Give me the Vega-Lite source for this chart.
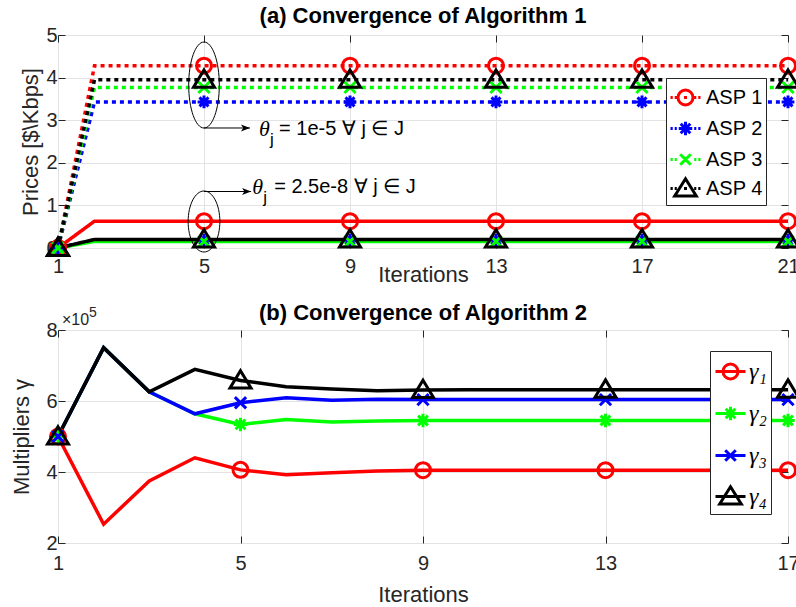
{
  "$schema": "https://vega.github.io/schema/vega-lite/v6.json",
  "background": "white",
  "padding": {"left": 9, "top": 4, "right": 0, "bottom": 0},
  "bounds": "flush",
  "spacing": 82,
  "config": {
    "font": "Liberation Sans",
    "view": {"stroke": "#262626", "strokeWidth": 1},
    "axis": {
      "labelFont": "Liberation Sans", "labelFontSize": 20, "labelColor": "#262626",
      "titleFont": "Liberation Sans", "titleFontSize": 22, "titleFontWeight": "normal", "titleColor": "#262626",
      "domain": false, "tickColor": "#262626", "tickSize": -7, "gridColor": "#e3e3e3", "gridWidth": 1,
      "labelFlush": false, "labelOverlap": false
    },
    "title": {"font": "Liberation Sans", "fontSize": 22, "fontWeight": "bold", "color": "#000000", "anchor": "middle", "baseline": "alphabetic"}
  },
  "resolve": {"scale": {"color": "independent", "shape": "independent", "x": "independent", "y": "independent"}, "legend": {"color": "independent", "shape": "independent"}},
  "datasets": {
    "prices": [
      {"asp": "ASP 1", "theta": "1e-5", "iter": 1, "price": 0}, {"asp": "ASP 1", "theta": "1e-5", "iter": 2, "price": 4.28}, {"asp": "ASP 1", "theta": "1e-5", "iter": 5, "price": 4.28}, {"asp": "ASP 1", "theta": "1e-5", "iter": 9, "price": 4.28}, {"asp": "ASP 1", "theta": "1e-5", "iter": 13, "price": 4.28}, {"asp": "ASP 1", "theta": "1e-5", "iter": 17, "price": 4.28}, {"asp": "ASP 1", "theta": "1e-5", "iter": 21, "price": 4.28},
      {"asp": "ASP 2", "theta": "1e-5", "iter": 1, "price": 0}, {"asp": "ASP 2", "theta": "1e-5", "iter": 2, "price": 3.43}, {"asp": "ASP 2", "theta": "1e-5", "iter": 5, "price": 3.43}, {"asp": "ASP 2", "theta": "1e-5", "iter": 9, "price": 3.43}, {"asp": "ASP 2", "theta": "1e-5", "iter": 13, "price": 3.43}, {"asp": "ASP 2", "theta": "1e-5", "iter": 17, "price": 3.43}, {"asp": "ASP 2", "theta": "1e-5", "iter": 21, "price": 3.43},
      {"asp": "ASP 3", "theta": "1e-5", "iter": 1, "price": 0}, {"asp": "ASP 3", "theta": "1e-5", "iter": 2, "price": 3.77}, {"asp": "ASP 3", "theta": "1e-5", "iter": 5, "price": 3.77}, {"asp": "ASP 3", "theta": "1e-5", "iter": 9, "price": 3.77}, {"asp": "ASP 3", "theta": "1e-5", "iter": 13, "price": 3.77}, {"asp": "ASP 3", "theta": "1e-5", "iter": 17, "price": 3.77}, {"asp": "ASP 3", "theta": "1e-5", "iter": 21, "price": 3.77},
      {"asp": "ASP 4", "theta": "1e-5", "iter": 1, "price": 0}, {"asp": "ASP 4", "theta": "1e-5", "iter": 2, "price": 3.95}, {"asp": "ASP 4", "theta": "1e-5", "iter": 5, "price": 3.95}, {"asp": "ASP 4", "theta": "1e-5", "iter": 9, "price": 3.95}, {"asp": "ASP 4", "theta": "1e-5", "iter": 13, "price": 3.95}, {"asp": "ASP 4", "theta": "1e-5", "iter": 17, "price": 3.95}, {"asp": "ASP 4", "theta": "1e-5", "iter": 21, "price": 3.95},
      {"asp": "ASP 1", "theta": "2.5e-8", "iter": 1, "price": 0}, {"asp": "ASP 1", "theta": "2.5e-8", "iter": 2, "price": 0.63}, {"asp": "ASP 1", "theta": "2.5e-8", "iter": 5, "price": 0.63}, {"asp": "ASP 1", "theta": "2.5e-8", "iter": 9, "price": 0.63}, {"asp": "ASP 1", "theta": "2.5e-8", "iter": 13, "price": 0.63}, {"asp": "ASP 1", "theta": "2.5e-8", "iter": 17, "price": 0.63}, {"asp": "ASP 1", "theta": "2.5e-8", "iter": 21, "price": 0.63},
      {"asp": "ASP 2", "theta": "2.5e-8", "iter": 1, "price": 0}, {"asp": "ASP 2", "theta": "2.5e-8", "iter": 2, "price": 0.185}, {"asp": "ASP 2", "theta": "2.5e-8", "iter": 5, "price": 0.185}, {"asp": "ASP 2", "theta": "2.5e-8", "iter": 9, "price": 0.185}, {"asp": "ASP 2", "theta": "2.5e-8", "iter": 13, "price": 0.185}, {"asp": "ASP 2", "theta": "2.5e-8", "iter": 17, "price": 0.185}, {"asp": "ASP 2", "theta": "2.5e-8", "iter": 21, "price": 0.185},
      {"asp": "ASP 3", "theta": "2.5e-8", "iter": 1, "price": 0}, {"asp": "ASP 3", "theta": "2.5e-8", "iter": 2, "price": 0.155}, {"asp": "ASP 3", "theta": "2.5e-8", "iter": 5, "price": 0.155}, {"asp": "ASP 3", "theta": "2.5e-8", "iter": 9, "price": 0.155}, {"asp": "ASP 3", "theta": "2.5e-8", "iter": 13, "price": 0.155}, {"asp": "ASP 3", "theta": "2.5e-8", "iter": 17, "price": 0.155}, {"asp": "ASP 3", "theta": "2.5e-8", "iter": 21, "price": 0.155},
      {"asp": "ASP 4", "theta": "2.5e-8", "iter": 1, "price": 0}, {"asp": "ASP 4", "theta": "2.5e-8", "iter": 2, "price": 0.2}, {"asp": "ASP 4", "theta": "2.5e-8", "iter": 5, "price": 0.2}, {"asp": "ASP 4", "theta": "2.5e-8", "iter": 9, "price": 0.2}, {"asp": "ASP 4", "theta": "2.5e-8", "iter": 13, "price": 0.2}, {"asp": "ASP 4", "theta": "2.5e-8", "iter": 17, "price": 0.2}, {"asp": "ASP 4", "theta": "2.5e-8", "iter": 21, "price": 0.2}
    ],
    "gammas": [
      {"g": "γ₁", "iter": 1, "val": 500000}, {"g": "γ₁", "iter": 2, "val": 253000}, {"g": "γ₁", "iter": 3, "val": 375000}, {"g": "γ₁", "iter": 4, "val": 440000}, {"g": "γ₁", "iter": 5, "val": 406000}, {"g": "γ₁", "iter": 6, "val": 392000}, {"g": "γ₁", "iter": 7, "val": 398000}, {"g": "γ₁", "iter": 8, "val": 403000}, {"g": "γ₁", "iter": 9, "val": 405000}, {"g": "γ₁", "iter": 10, "val": 405000}, {"g": "γ₁", "iter": 11, "val": 405000}, {"g": "γ₁", "iter": 12, "val": 405000}, {"g": "γ₁", "iter": 13, "val": 405000}, {"g": "γ₁", "iter": 14, "val": 405000}, {"g": "γ₁", "iter": 15, "val": 405000}, {"g": "γ₁", "iter": 16, "val": 405000}, {"g": "γ₁", "iter": 17, "val": 405000},
      {"g": "γ₂", "iter": 1, "val": 500000}, {"g": "γ₂", "iter": 2, "val": 750000}, {"g": "γ₂", "iter": 3, "val": 626000}, {"g": "γ₂", "iter": 4, "val": 564000}, {"g": "γ₂", "iter": 5, "val": 534000}, {"g": "γ₂", "iter": 6, "val": 548000}, {"g": "γ₂", "iter": 7, "val": 541000}, {"g": "γ₂", "iter": 8, "val": 544000}, {"g": "γ₂", "iter": 9, "val": 545000}, {"g": "γ₂", "iter": 10, "val": 545000}, {"g": "γ₂", "iter": 11, "val": 545000}, {"g": "γ₂", "iter": 12, "val": 545000}, {"g": "γ₂", "iter": 13, "val": 545000}, {"g": "γ₂", "iter": 14, "val": 545000}, {"g": "γ₂", "iter": 15, "val": 545000}, {"g": "γ₂", "iter": 16, "val": 545000}, {"g": "γ₂", "iter": 17, "val": 545000},
      {"g": "γ₃", "iter": 1, "val": 500000}, {"g": "γ₃", "iter": 2, "val": 750000}, {"g": "γ₃", "iter": 3, "val": 626000}, {"g": "γ₃", "iter": 4, "val": 564000}, {"g": "γ₃", "iter": 5, "val": 595000}, {"g": "γ₃", "iter": 6, "val": 609000}, {"g": "γ₃", "iter": 7, "val": 602000}, {"g": "γ₃", "iter": 8, "val": 605000}, {"g": "γ₃", "iter": 9, "val": 604000}, {"g": "γ₃", "iter": 10, "val": 604000}, {"g": "γ₃", "iter": 11, "val": 604000}, {"g": "γ₃", "iter": 12, "val": 604000}, {"g": "γ₃", "iter": 13, "val": 604000}, {"g": "γ₃", "iter": 14, "val": 604000}, {"g": "γ₃", "iter": 15, "val": 604000}, {"g": "γ₃", "iter": 16, "val": 604000}, {"g": "γ₃", "iter": 17, "val": 604000},
      {"g": "γ₄", "iter": 1, "val": 500000}, {"g": "γ₄", "iter": 2, "val": 750000}, {"g": "γ₄", "iter": 3, "val": 626000}, {"g": "γ₄", "iter": 4, "val": 689000}, {"g": "γ₄", "iter": 5, "val": 658000}, {"g": "γ₄", "iter": 6, "val": 640000}, {"g": "γ₄", "iter": 7, "val": 634000}, {"g": "γ₄", "iter": 8, "val": 629000}, {"g": "γ₄", "iter": 9, "val": 631000}, {"g": "γ₄", "iter": 10, "val": 632000}, {"g": "γ₄", "iter": 11, "val": 632000}, {"g": "γ₄", "iter": 12, "val": 632000}, {"g": "γ₄", "iter": 13, "val": 632000}, {"g": "γ₄", "iter": 14, "val": 632000}, {"g": "γ₄", "iter": 15, "val": 632000}, {"g": "γ₄", "iter": 16, "val": 632000}, {"g": "γ₄", "iter": 17, "val": 632000}
    ]
  },
  "vconcat": [
    {
      "width": 730, "height": 213,
      "title": {"text": "(a) Convergence of Algorithm 1", "offset": -3},
      "resolve": {"axis": {"x": "independent", "y": "independent"}},
      "layer": [
        {
          "data": {"name": "prices"},
          "mark": {"type": "line", "strokeWidth": 3.5},
          "encoding": {
            "x": {"field": "iter", "type": "quantitative", "scale": {"domain": [1, 21], "nice": false, "zero": false},
                  "axis": {"orient": "bottom", "values": [1, 5, 9, 13, 17, 21], "title": "Iterations", "titleY": 33, "titleBaseline": "alphabetic", "labelPadding": 15, "grid": true}},
            "y": {"field": "price", "type": "quantitative", "scale": {"domain": [0, 5], "nice": false},
                  "axis": {"orient": "left", "values": [0, 1, 2, 3, 4, 5], "title": "Prices [$\\Kbps]", "titleX": -21, "titleBaseline": "alphabetic", "labelPadding": 8, "grid": true}},
            "color": {"field": "asp", "type": "nominal",
              "scale": {"domain": ["ASP 1", "ASP 2", "ASP 3", "ASP 4"], "range": ["#ff0000", "#0000ff", "#00ff00", "#000000"]},
              "legend": {"orient": "none", "legendX": 608, "legendY": 43, "title": null, "symbolSize": 900,
                "labelFont": "Liberation Sans", "labelFontSize": 20, "labelColor": "#000000", "padding": 3, "rowPadding": 1, "labelOffset": 4,
                "strokeColor": "#262626", "fillColor": "white",
                "encode": {"symbols": {"update": {
                  "shape": [
                    {"test": "datum.value === 'ASP 1'", "value": "M -1 0 L -0.85 0 M -0.72 0 L -0.58 0 M 0.58 0 L 0.72 0 M 0.85 0 L 1 0 M -0.1 0 L 0.1 0 M 0.5 0 A 0.5 0.5 0 1 1 -0.5 0 A 0.5 0.5 0 1 1 0.5 0 Z"},
                    {"test": "datum.value === 'ASP 2'", "value": "M -1 0 L -0.85 0 M -0.72 0 L -0.58 0 M 0.58 0 L 0.72 0 M 0.85 0 L 1 0 M -0.45 0 L 0.45 0 M 0 -0.45 L 0 0.45 M -0.32 -0.32 L 0.32 0.32 M -0.32 0.32 L 0.32 -0.32"},
                    {"test": "datum.value === 'ASP 3'", "value": "M -1 0 L -0.85 0 M -0.72 0 L -0.58 0 M 0.58 0 L 0.72 0 M 0.85 0 L 1 0 M -0.35 -0.35 L 0.35 0.35 M -0.35 0.35 L 0.35 -0.35"},
                    {"value": "M -1 0 L -0.85 0 M -0.72 0 L -0.58 0 M 0.58 0 L 0.72 0 M 0.85 0 L 1 0 M -0.1 0 L 0.1 0 M 0 -0.65 L 0.72 0.5 L -0.72 0.5 Z"}
                  ],
                  "fill": {"value": "transparent"},
                  "strokeWidth": {"value": 3}
                }}}
              }},
            "strokeDash": {"field": "theta", "type": "nominal", "scale": {"domain": ["1e-5", "2.5e-8"], "range": [[4, 4], [1, 0]]}, "legend": null}
          }
        },
        {
          "data": {"name": "prices"},
          "transform": [{"filter": "(datum.iter - 1) % 4 == 0"}],
          "mark": {"type": "point", "filled": false, "strokeWidth": 3, "size": 225, "opacity": 1},
          "encoding": {
            "x": {"field": "iter", "type": "quantitative", "axis": null},
            "y": {"field": "price", "type": "quantitative", "axis": null},
            "color": {"field": "asp", "type": "nominal", "legend": null},
            "shape": {"field": "asp", "type": "nominal", "legend": null,
              "scale": {"domain": ["ASP 4", "ASP 3", "ASP 2", "ASP 1"], "range": [
                "M 0 -1.3 L 1.4 1 L -1.4 1 Z",
                "M -0.75 -0.75 L 0.75 0.75 M -0.75 0.75 L 0.75 -0.75",
                "M -0.85 0 L 0.85 0 M 0 -0.85 L 0 0.85 M -0.6 -0.6 L 0.6 0.6 M -0.6 0.6 L 0.6 -0.6",
                "M 1 0 A 1 1 0 1 1 -1 0 A 1 1 0 1 1 1 0 Z"]}}
          }
        },
        {
          "data": {"values": [{}]},
          "mark": {"type": "point", "shape": "M 0 -1 A 0.356 1 0 1 0 0 1 A 0.356 1 0 1 0 0 -1 Z", "size": 7396, "filled": false, "stroke": "#000000", "strokeWidth": 1, "opacity": 1},
          "encoding": {
            "x": {"datum": 5, "axis": {"orient": "top", "values": [1, 5, 9, 13, 17, 21], "labels": false, "title": null, "grid": false}},
            "y": {"datum": 3.826, "axis": {"orient": "right", "values": [0, 1, 2, 3, 4, 5], "labels": false, "title": null, "grid": false}}
          }
        },
        {
          "data": {"values": [{}]},
          "mark": {"type": "point", "shape": "M 0 -1 A 0.52 1 0 1 0 0 1 A 0.52 1 0 1 0 0 -1 Z", "size": 3721, "filled": false, "stroke": "#000000", "strokeWidth": 1, "opacity": 1},
          "encoding": {"x": {"datum": 5, "axis": null}, "y": {"datum": 0.622, "axis": null}}
        },
        {
          "data": {"values": [{}]},
          "mark": {"type": "rule", "color": "#000000", "strokeWidth": 1},
          "encoding": {"x": {"datum": 5, "axis": null}, "x2": {"datum": 6.26}, "y": {"datum": 2.817, "axis": null}}
        },
        {
          "data": {"values": [{}]},
          "mark": {"type": "rule", "color": "#000000", "strokeWidth": 1},
          "encoding": {"x": {"datum": 5, "axis": null}, "x2": {"datum": 6.29}, "y": {"datum": 1.326, "axis": null}}
        },
        {
          "data": {"values": [{}]},
          "mark": {"type": "point", "shape": "M 0 0 L -2 -0.8 L -1.5 0 L -2 0.8 Z", "size": 81, "filled": true, "color": "#000000", "opacity": 1},
          "encoding": {"x": {"datum": 6.26, "axis": null}, "y": {"datum": 2.817, "axis": null}}
        },
        {
          "data": {"values": [{}]},
          "mark": {"type": "point", "shape": "M 0 0 L -2 -0.8 L -1.5 0 L -2 0.8 Z", "size": 81, "filled": true, "color": "#000000", "opacity": 1},
          "encoding": {"x": {"datum": 6.29, "axis": null}, "y": {"datum": 1.326, "axis": null}}
        },
        {
          "data": {"values": [{}]},
          "mark": {"type": "text", "text": "θ", "font": "Liberation Serif", "fontStyle": "italic", "fontSize": 22, "align": "left", "baseline": "middle", "color": "#000000"},
          "encoding": {"x": {"datum": 6.51, "axis": null}, "y": {"datum": 2.80, "axis": null}}
        },
        {
          "data": {"values": [{}]},
          "mark": {"type": "text", "text": "j", "fontSize": 17, "align": "left", "baseline": "middle", "dx": 11, "dy": 11, "color": "#000000"},
          "encoding": {"x": {"datum": 6.51, "axis": null}, "y": {"datum": 2.80, "axis": null}}
        },
        {
          "data": {"values": [{}]},
          "mark": {"type": "text", "text": "= 1e-5 ∀ j ∈ J", "fontSize": 20, "align": "left", "baseline": "middle", "dx": 20, "color": "#000000"},
          "encoding": {"x": {"datum": 6.51, "axis": null}, "y": {"datum": 2.80, "axis": null}}
        },
        {
          "data": {"values": [{}]},
          "mark": {"type": "text", "text": "θ", "font": "Liberation Serif", "fontStyle": "italic", "fontSize": 22, "align": "left", "baseline": "middle", "color": "#000000"},
          "encoding": {"x": {"datum": 6.32, "axis": null}, "y": {"datum": 1.43, "axis": null}}
        },
        {
          "data": {"values": [{}]},
          "mark": {"type": "text", "text": "j", "fontSize": 17, "align": "left", "baseline": "middle", "dx": 11, "dy": 11, "color": "#000000"},
          "encoding": {"x": {"datum": 6.32, "axis": null}, "y": {"datum": 1.43, "axis": null}}
        },
        {
          "data": {"values": [{}]},
          "mark": {"type": "text", "text": "= 2.5e-8 ∀ j ∈ J", "fontSize": 20, "align": "left", "baseline": "middle", "dx": 22, "color": "#000000"},
          "encoding": {"x": {"datum": 6.32, "axis": null}, "y": {"datum": 1.43, "axis": null}}
        }
      ]
    },
    {
      "width": 730, "height": 213,
      "title": {"text": "(b) Convergence of Algorithm 2", "offset": -19},
      "resolve": {"axis": {"x": "independent", "y": "independent"}},
      "layer": [
        {
          "data": {"name": "gammas"},
          "mark": {"type": "line", "strokeWidth": 3.5},
          "encoding": {
            "x": {"field": "iter", "type": "quantitative", "scale": {"domain": [1, 17], "nice": false, "zero": false},
                  "axis": {"orient": "bottom", "values": [1, 5, 9, 13, 17], "title": "Iterations", "titleY": 58, "titleBaseline": "alphabetic", "labelPadding": 17, "grid": true}},
            "y": {"field": "val", "type": "quantitative", "scale": {"domain": [200000, 800000], "nice": false, "zero": false},
                  "axis": {"orient": "left", "values": [200000, 400000, 600000, 800000], "labelExpr": "format(datum.value / 100000, 'd')", "title": "Multipliers γ", "titleX": -30, "titleBaseline": "alphabetic", "labelPadding": 8, "grid": true}},
            "color": {"field": "g", "type": "nominal",
              "scale": {"domain": ["γ₁", "γ₂", "γ₃", "γ₄"], "range": ["#ff0000", "#00ff00", "#0000ff", "#000000"]},
              "legend": {"orient": "none", "legendX": 652, "legendY": 21, "title": null, "symbolSize": 900,
                "labelFont": "Liberation Serif", "labelFontStyle": "italic", "labelFontSize": 24, "labelColor": "#000000", "padding": 4, "rowPadding": 12, "labelOffset": 2,
                "strokeColor": "#262626", "fillColor": "white",
                "encode": {"symbols": {"update": {
                  "shape": [
                    {"test": "datum.value === 'γ₁'", "value": "M -1 0 L 1 0 M 0.5 0 A 0.5 0.5 0 1 1 -0.5 0 A 0.5 0.5 0 1 1 0.5 0 Z"},
                    {"test": "datum.value === 'γ₂'", "value": "M -1 0 L 1 0 M 0 -0.45 L 0 0.45 M -0.32 -0.32 L 0.32 0.32 M -0.32 0.32 L 0.32 -0.32"},
                    {"test": "datum.value === 'γ₃'", "value": "M -1 0 L 1 0 M -0.35 -0.35 L 0.35 0.35 M -0.35 0.35 L 0.35 -0.35"},
                    {"value": "M -1 0 L 1 0 M 0 -0.65 L 0.72 0.5 L -0.72 0.5 Z"}
                  ],
                  "fill": {"value": "transparent"},
                  "strokeWidth": {"value": 3}
                }}}
              }}
          }
        },
        {
          "data": {"name": "gammas"},
          "transform": [{"filter": "(datum.iter - 1) % 4 == 0"}],
          "mark": {"type": "point", "filled": false, "strokeWidth": 3, "size": 225, "opacity": 1},
          "encoding": {
            "x": {"field": "iter", "type": "quantitative", "axis": null},
            "y": {"field": "val", "type": "quantitative", "axis": null},
            "color": {"field": "g", "type": "nominal", "legend": null},
            "shape": {"field": "g", "type": "nominal", "legend": null,
              "scale": {"domain": ["γ₄", "γ₃", "γ₂", "γ₁"], "range": [
                "M 0 -1.3 L 1.4 1 L -1.4 1 Z",
                "M -0.75 -0.75 L 0.75 0.75 M -0.75 0.75 L 0.75 -0.75",
                "M -0.9 0 L 0.9 0 M 0 -0.9 L 0 0.9 M -0.65 -0.65 L 0.65 0.65 M -0.65 0.65 L 0.65 -0.65",
                "M 1 0 A 1 1 0 1 1 -1 0 A 1 1 0 1 1 1 0 Z"]}}
          }
        },
        {
          "data": {"values": [{}]},
          "mark": {"type": "text", "text": "×10", "fontSize": 16, "align": "left", "baseline": "alphabetic", "dx": 4, "dy": -5, "color": "#262626"},
          "encoding": {
            "x": {"datum": 1, "axis": {"orient": "top", "values": [1, 5, 9, 13, 17], "labels": false, "title": null, "grid": false}},
            "y": {"datum": 800000, "axis": {"orient": "right", "values": [200000, 400000, 600000, 800000], "labels": false, "title": null, "grid": false}}
          }
        },
        {
          "data": {"values": [{}]},
          "mark": {"type": "text", "text": "5", "fontSize": 14, "align": "left", "baseline": "alphabetic", "dx": 31, "dy": -13, "color": "#262626"},
          "encoding": {"x": {"datum": 1, "axis": null}, "y": {"datum": 800000, "axis": null}}
        }
      ]
    }
  ]
}
